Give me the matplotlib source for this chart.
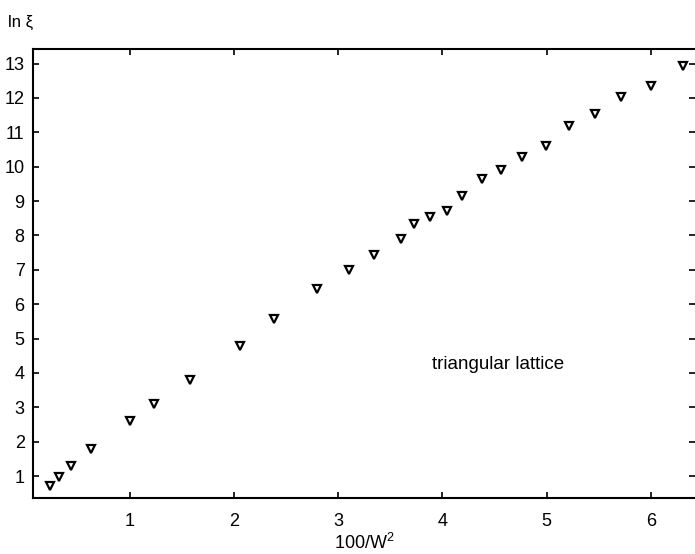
import numpy as np
import matplotlib
matplotlib.use("Agg")
import matplotlib.pyplot as plt

plt.rcParams['font.family'] = ['Liberation Sans', 'DejaVu Sans']
plt.rcParams['mathtext.fontset'] = 'custom'
plt.rcParams['mathtext.rm'] = 'Liberation Sans'

# data
x_vals = [0.23, 0.32, 0.43, 0.63, 1.00, 1.23, 1.58, 2.06, 2.38, 2.80, 3.10, 3.34, 3.60,
          3.73, 3.88, 4.04, 4.19, 4.38, 4.56, 4.76, 4.99, 5.21, 5.46, 5.71, 6.00, 6.31]
y_vals = [0.71, 0.97, 1.29, 1.79, 2.60, 3.10, 3.80, 4.79, 5.58, 6.45, 6.98, 7.44, 7.91,
          8.32, 8.55, 8.70, 9.16, 9.63, 9.89, 10.27, 10.60, 11.17, 11.52, 12.02, 12.34, 12.92]
x_ticks = [1, 2, 3, 4, 5, 6]
y_ticks = list(range(1, 14))

fig = plt.figure(figsize=(6.95, 5.54), dpi=100)
ax = fig.add_axes([0.0475, 0.101, 0.952, 0.811])

ax.plot(x_vals, y_vals, linestyle='none', marker='v', markersize=5.5,
        markerfacecolor='white', markeredgecolor='black', markeredgewidth=1.6)

ax.set_xlim(0.07, 6.42)
ax.set_ylim(0.36, 13.43)
ax.set_xticks(x_ticks)
ax.set_yticks(y_ticks)
ax.tick_params(axis='both', direction='in', labelsize=13, length=4, width=1.2,
               top=True, right=True)
ax.tick_params(axis='x', pad=11)
ax.tick_params(axis='y', pad=6)

for s in ['left', 'bottom', 'top']:
    ax.spines[s].set_linewidth(1.5)
ax.spines['right'].set_visible(False)

ax.set_xlabel("100/W$^{2}$", fontsize=13, labelpad=2)
fig.text(0.012, 0.96, "ln ξ", fontsize=12, ha='left', va='center')
ax.text(4.53, 4.24, "triangular lattice", fontsize=13.5, ha='center', va='center')

plt.savefig("out.png", dpi=100)
